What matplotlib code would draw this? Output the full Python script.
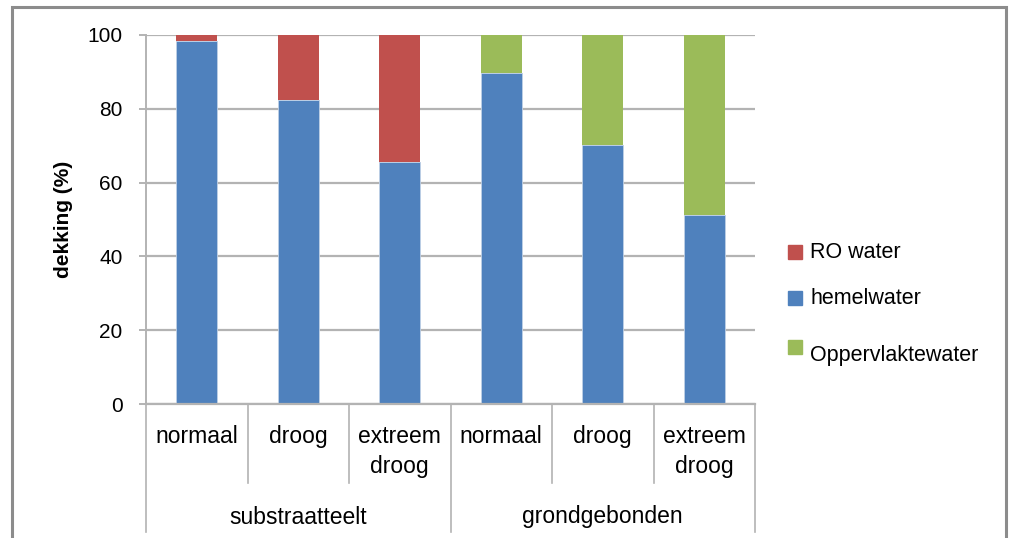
import matplotlib
matplotlib.use("Agg")
import matplotlib.pyplot as plt
from matplotlib.patches import Rectangle
import numpy as np

plt.rcParams["font.family"] = ["Liberation Sans", "DejaVu Sans"]

# Coverage (%) per scenario, stacked per bar
groups = ["substraatteelt", "grondgebonden"]
scenarios = ["normaal", "droog", "extreem\ndroog",
             "normaal", "droog", "extreem\ndroog"]
hemelwater = [98.5, 82.5, 65.6, 89.8, 70.1, 51.1]
ro_water = [1.5, 17.5, 34.4, 0, 0, 0]
oppervlaktewater = [0, 0, 0, 10.2, 29.9, 48.9]
legend_labels = ["RO water", "hemelwater", "Oppervlaktewater"]

BLUE = "#4F81BD"
RED = "#C0504D"
GREEN = "#9BBB59"
GRID = "#B3B3B3"

W, H = 1011, 538
fig = plt.figure(figsize=(W / 100, H / 100), dpi=100)
ax = fig.add_axes([146 / W, 1 - 404 / H, 609 / W, 369 / H])

x = np.arange(len(scenarios))
w = 0.4
ax.bar(x, hemelwater, w, color=BLUE, edgecolor="#BFD0E6", linewidth=0.6, zorder=3)
ax.bar(x, ro_water, w, bottom=hemelwater, color=RED, linewidth=0, zorder=3)
ax.bar(x, oppervlaktewater, w, bottom=hemelwater, color=GREEN, linewidth=0, zorder=3)

ax.set_xlim(-0.5, len(scenarios) - 0.5)
ax.set_ylim(0, 100)
ax.set_yticks([0, 20, 40, 60, 80, 100])
ax.grid(axis="y", color=GRID, linewidth=1.6, zorder=0)
ax.set_axisbelow(True)
for s in ["top", "right", "bottom"]:
    ax.spines[s].set_visible(False)
ax.spines["left"].set_color(GRID)
ax.spines["left"].set_linewidth(1.4)
ax.tick_params(axis="y", length=5, width=1.4, color=GRID, pad=12, labelsize=15)
ax.set_xticks([])
ax.set_ylabel("dekking (%)", fontsize=15, fontweight="bold", labelpad=10)

# zero line and category separators below the plot
trans = ax.get_xaxis_transform()
ax.plot([-0.5, len(scenarios) - 0.5], [0, 0], color=GRID, lw=1.6,
        transform=trans, clip_on=False, zorder=4)
px = 1 / 369
for b in np.arange(-0.5, len(scenarios), 1.0):
    depth = 128 if b in (-0.5, 2.5, 5.5) else 79
    ax.plot([b, b], [0, -depth * px], color=GRID, lw=1.2,
            transform=trans, clip_on=False)

for xi, lab in zip(x, scenarios):
    ax.text(xi, -21 * px, lab, transform=trans, ha="center", va="top",
            fontsize=16.5, linespacing=1.4)
for gi, g in enumerate(groups):
    ax.text(gi * 3 + 1, -113 * px, g, transform=trans, ha="center",
            va="center", fontsize=16.5)

# legend entries, laid out as free text with square swatches
legend_colors = [RED, BLUE, GREEN]
text_y = [252, 298, 355]
swatch_y = [252, 298, 347]
for lab, col, ty, sy in zip(legend_labels, legend_colors, text_y, swatch_y):
    fig.patches.append(Rectangle((788 / W, 1 - (sy + 7) / H), 14 / W, 14 / H,
                                 transform=fig.transFigure, color=col))
    fig.text(810 / W, 1 - ty / H, lab, ha="left", va="center", fontsize=15.5)

# outer chart frame
fig.patches.append(Rectangle((12 / W, -0.02), 994 / W, 1.02 - 7 / H,
                             transform=fig.transFigure, fill=False,
                             edgecolor="#8C8C8C", linewidth=2.2))

fig.savefig("out.png", dpi=100)
